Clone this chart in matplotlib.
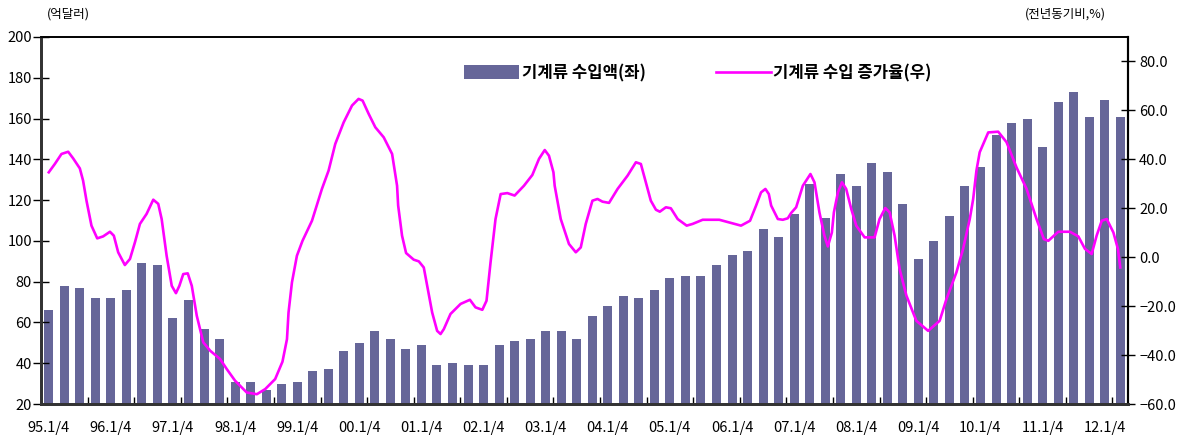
import matplotlib
matplotlib.use('Agg')
import matplotlib.pyplot as plt
import numpy as np

plt.rcParams['font.family'] = ['Noto Sans CJK KR', 'DejaVu Sans']

# quarterly machinery imports (100 million USD), 95Q1 .. 12Q2
imports = [66, 78, 77, 72, 72, 76, 89, 88, 62, 71, 57, 52,
           31, 31, 27, 30, 31, 36, 37, 46, 50, 56, 52, 47,
           49, 39, 40, 39, 39, 49, 51, 52, 56, 56, 52, 63,
           68, 73, 72, 76, 82, 83, 83, 88, 93, 95, 106, 102,
           113, 128, 111, 133, 127, 138, 134, 118, 91, 100,
           112, 127, 136, 152, 158, 160, 146, 168, 173, 161,
           169, 161]

# growth rate (yoy, %), x in quarter index
growth_x = [0.00, 0.39, 0.82, 1.25, 1.57, 2.00, 2.21, 2.43, 2.75, 3.12,
            3.50, 3.94, 4.19, 4.47, 4.90, 5.23, 5.55, 5.87, 6.30, 6.73,
            7.05, 7.27, 7.59, 7.92, 8.19, 8.41, 8.66, 8.95, 9.21, 9.53,
            9.95, 10.39, 11.03, 11.46, 12.00, 12.75, 13.40, 13.94, 14.58, 15.05,
            15.34, 15.44, 15.66, 15.98, 16.34, 16.95, 17.59, 18.02, 18.45, 18.99,
            19.53, 19.95, 20.21, 20.60, 21.03, 21.57, 22.11, 22.43, 22.50, 22.75,
            23.01, 23.50, 23.83, 24.15, 24.37, 24.69, 25.01, 25.23, 25.44, 25.87,
            26.52, 27.12, 27.48, 27.92, 28.19, 28.45, 28.77, 29.10, 29.53, 30.00,
            30.60, 31.14, 31.57, 31.94, 32.21, 32.50, 32.58, 32.97, 33.50, 33.94,
            34.26, 34.58, 35.01, 35.34, 35.66, 36.08, 36.63, 37.27, 37.81, 38.13,
            38.45, 38.77, 39.10, 39.35, 39.74, 40.06, 40.50, 41.08, 41.46, 42.11,
            43.18, 43.83, 44.58, 45.16, 45.55, 45.87, 46.15, 46.37, 46.52, 46.95,
            47.27, 47.59, 47.81, 48.13, 48.56, 49.05, 49.31, 49.63, 49.95, 50.17,
            50.43, 50.56, 50.82, 51.08, 51.35, 51.68, 52.00, 52.54, 53.18, 53.50,
            53.87, 54.15, 54.47, 54.79, 55.23, 55.87, 56.63, 57.37, 57.81, 58.45,
            58.88, 59.31, 59.53, 59.74, 59.95, 60.50, 61.14, 61.68, 62.32, 62.97,
            63.61, 64.08, 64.37, 65.01, 65.76, 66.30, 66.73, 67.16, 67.48, 67.81,
            68.13, 68.56, 68.85, 69.00]
growth = [34.7, 38.1, 42.2, 43.1, 40.4, 36.3, 31.3, 23.1, 12.9, 7.7,
          8.5, 10.4, 8.8, 2.0, -3.2, -0.7, 6.1, 13.6, 17.7, 23.5,
          21.8, 15.6, 0.6, -11.7, -14.7, -11.7, -6.9, -6.6, -11.7, -23.9,
          -34.8, -38.2, -41.6, -45.7, -50.5, -55.3, -56.0, -53.9, -49.8, -42.7,
          -33.5, -22.6, -10.3, 0.6, 6.7, 14.9, 27.9, 35.4, 46.3, 55.1,
          62.0, 64.7, 64.0, 58.6, 53.1, 49.0, 42.2, 29.2, 21.1, 8.8,
          1.7, -1.0, -1.7, -4.2, -11.7, -22.6, -30.1, -31.4, -29.4, -23.2,
          -19.1, -17.4, -20.5, -21.5, -17.8, -2.1, 15.6, 25.8, 26.2, 25.2,
          29.2, 33.6, 40.2, 43.8, 41.5, 34.7, 29.2, 15.6, 5.4, 2.0,
          4.0, 13.6, 23.1, 23.8, 22.7, 22.2, 27.9, 33.3, 38.8, 38.1,
          30.6, 23.1, 19.4, 18.6, 20.4, 20.0, 15.6, 12.9, 13.6, 15.3,
          15.3, 14.2, 12.9, 14.9, 21.1, 26.5, 27.9, 25.8, 21.1, 15.6,
          15.3, 15.9, 18.1, 20.4, 29.2, 34.0, 30.6, 18.3, 8.8, 4.4,
          10.1, 18.3, 26.5, 30.6, 27.9, 19.7, 12.9, 8.1, 8.1, 15.6,
          20.1, 18.3, 8.8, -4.8, -15.7, -26.0, -30.1, -26.0, -17.1, -6.2,
          3.4, 15.6, 23.8, 35.4, 42.9, 51.0, 51.3, 47.0, 36.7, 27.9,
          15.6, 7.4, 6.7, 10.4, 10.4, 8.5, 3.4, 1.3, 8.8, 14.9,
          15.6, 10.1, 3.4, -4.2]

year_labels = ['95.1/4', '96.1/4', '97.1/4', '98.1/4', '99.1/4', '00.1/4',
               '01.1/4', '02.1/4', '03.1/4', '04.1/4', '05.1/4', '06.1/4',
               '07.1/4', '08.1/4', '09.1/4', '10.1/4', '11.1/4', '12.1/4']

bar_color = '#666699'
line_color = '#ff00ff'

fig = plt.figure(figsize=(11.88, 4.37), dpi=100)
ax = fig.add_axes([41/1188, 1 - 404/437, (1128 - 41)/1188, (404 - 37)/437])

x = np.arange(len(imports))
ax.bar(x, np.array(imports) - 20, bottom=20, width=0.58, color=bar_color, label='기계류 수입액(좌)')
ax.set_xlim(-0.5, len(imports) - 0.5)
ax.set_ylim(20, 200)
ax.set_yticks(np.arange(20, 201, 20))
ax.tick_params(axis='y', direction='inout', length=11, width=1, labelsize=10.5, pad=1)

ax.set_xticks(np.arange(0, len(imports), 4))
ax.set_xticklabels(year_labels)
ax.set_xticks(np.arange(2.5, len(imports) - 0.5, 3), minor=True)
ax.tick_params(axis='x', which='major', length=0, labelsize=10.5, pad=12)
ax.tick_params(axis='x', which='minor', direction='in', length=5, width=1)

ax2 = ax.twinx()
ax2.plot(growth_x, growth, color=line_color, lw=1.9, label='기계류 수입 증가율(우)')
ax2.set_ylim(-60, 90)
ax2.set_yticks(np.arange(-60, 81, 20))
ax2.set_yticklabels([f'{v:.1f}'.replace('-', '\u2212') for v in np.arange(-60, 81, 20)])
ax2.tick_params(axis='y', direction='inout', length=10, width=1, labelsize=10.5, pad=3)

for a in (ax, ax2):
    a.spines['left'].set_color('#333333')
    a.spines['left'].set_linewidth(2)
    a.spines['bottom'].set_color('#333333')
    a.spines['bottom'].set_linewidth(2)
    a.spines['top'].set_linewidth(1.2)
    a.spines['right'].set_linewidth(1.5)

fig.text(47/1188, 1 - 14/437, '(억달러)', fontsize=9, va='center', ha='left')
fig.text(1065/1188, 1 - 14/437, '(전년동기비,%)', fontsize=9, va='center', ha='center')

h1, l1 = ax.get_legend_handles_labels()
h2, l2 = ax2.get_legend_handles_labels()
fig.legend(h1 + h2, l1 + l2, loc='center', bbox_to_anchor=(698/1188, 1 - 73/437),
           ncol=2, frameon=False, borderpad=0, handlelength=3.3, handleheight=0.9,
           handletextpad=0.15, columnspacing=4.2,
           prop={'size': 12, 'weight': 'bold'})

fig.savefig('out.png', dpi=100)
